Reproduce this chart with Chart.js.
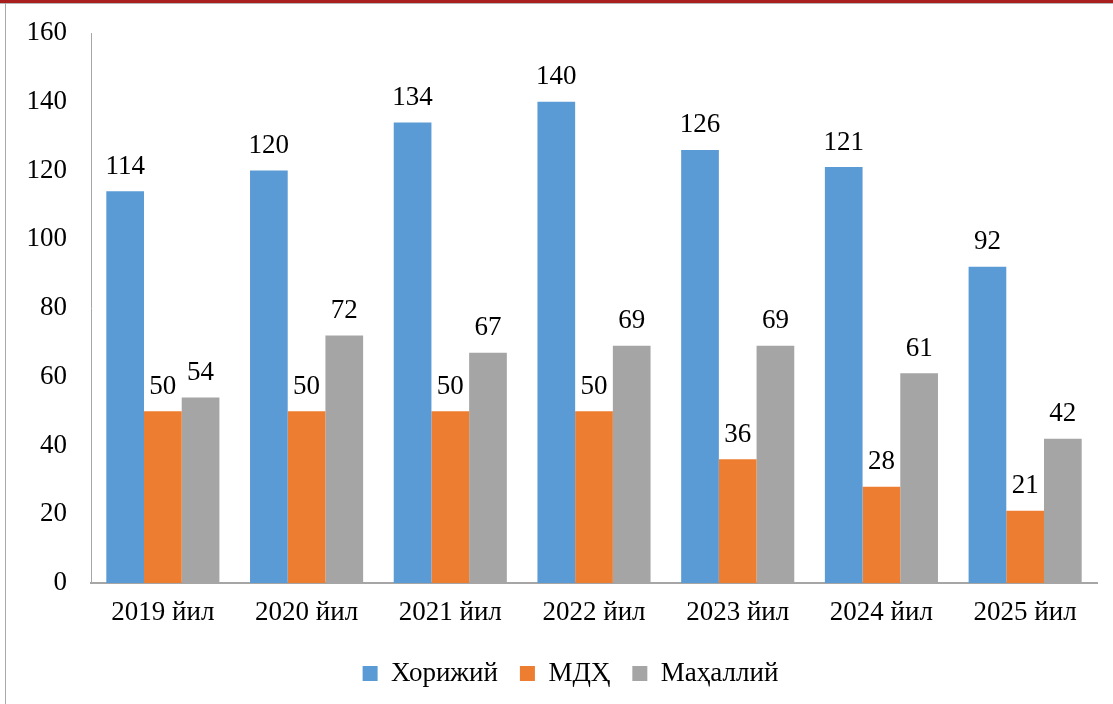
<!DOCTYPE html>
<html>
<head>
<meta charset="utf-8">
<script src="https://cdn.jsdelivr.net/npm/chart.js@4/dist/chart.umd.min.js"></script>
<style>
  html, body { margin: 0; padding: 0; background: #fff; }
  #wrap { position: relative; width: 1113px; height: 704px; overflow: hidden; }
  #topbar { position: absolute; left: 0; top: 0; width: 1113px; height: 3px; background: #A91E1E; }
  #topline { position: absolute; left: 0; top: 3px; width: 1113px; height: 1px; background: #B8B8B8; }
  #leftline { position: absolute; left: 5px; top: 3px; width: 1px; height: 701px; background: #A8A8A8; }
  canvas { position: absolute; left: 0; top: 0; }
</style>
</head>
<body>
<div id="wrap">
  <canvas id="c" width="1113" height="704"></canvas>
  <div id="topbar"></div>
  <div id="topline"></div>
  <div id="leftline"></div>
</div>
<script>
const categories = ["2019 йил", "2020 йил", "2021 йил", "2022 йил", "2023 йил", "2024 йил", "2025 йил"];
const seriesNames = ["Хорижий", "МДҲ", "Маҳаллий"];
const foreignValues = [114, 120, 134, 140, 126, 121, 92];
const cisValues = [50, 50, 50, 50, 36, 28, 21];
const localValues = [54, 72, 67, 69, 69, 61, 42];
const yTicks = [0, 20, 40, 60, 80, 100, 120, 140, 160];
const colors = ["#5B9BD5", "#ED7D31", "#A5A5A5"];

const FONT = "'Liberation Serif', 'DejaVu Serif', serif";
const FS = 27;

const dataLabels = {
  id: 'dataLabels',
  afterDatasetsDraw(chart) {
    const ctx = chart.ctx;
    ctx.save();
    ctx.font = FS + "px " + FONT;
    ctx.fillStyle = "#000";
    ctx.textAlign = "center";
    ctx.textBaseline = "bottom";
    chart.data.datasets.forEach((ds, i) => {
      const meta = chart.getDatasetMeta(i);
      meta.data.forEach((bar, j) => {
        ctx.fillText(String(ds.data[j]), bar.x, bar.y - 11);
      });
    });
    ctx.restore();
  }
};

new Chart(document.getElementById('c'), {
  type: 'bar',
  data: {
    labels: categories,
    datasets: [
      { label: seriesNames[0], data: foreignValues, backgroundColor: colors[0] },
      { label: seriesNames[1], data: cisValues, backgroundColor: colors[1] },
      { label: seriesNames[2], data: localValues, backgroundColor: colors[2] }
    ]
  },
  options: {
    responsive: false,
    animation: false,
    layout: { padding: { top: 33, right: -28, bottom: 7, left: 0 } },
    datasets: { bar: { categoryPercentage: 0.787, barPercentage: 1.0, borderWidth: 0 } },
    scales: {
      x: {
        grid: { display: false, drawTicks: false },
        border: { display: true, color: '#A6A6A6', width: 2 },
        ticks: { color: '#000', font: { family: FONT, size: FS }, padding: 14, maxRotation: 0 },
        afterFit(scale) { scale.height = 55; scale.paddingRight = 16; }
      },
      y: {
        min: 0, max: 160,
        afterBuildTicks(scale) { scale.ticks = yTicks.map(v => ({ value: v })); },
        grid: { display: false, drawTicks: false },
        border: { display: true, color: '#A6A6A6', width: 1 },
        ticks: { color: '#000', font: { family: FONT, size: FS, lineHeight: 0.6 }, padding: 24 },
        afterFit(scale) { scale.width = 91; }
      }
    },
    plugins: {
      legend: {
        position: 'bottom',
        labels: {
          color: '#000',
          font: { family: FONT, size: FS },
          boxWidth: 15, boxHeight: 15, padding: 22
        }
      },
      tooltip: { enabled: false }
    }
  },
  plugins: [dataLabels]
});
</script>
</body>
</html>
